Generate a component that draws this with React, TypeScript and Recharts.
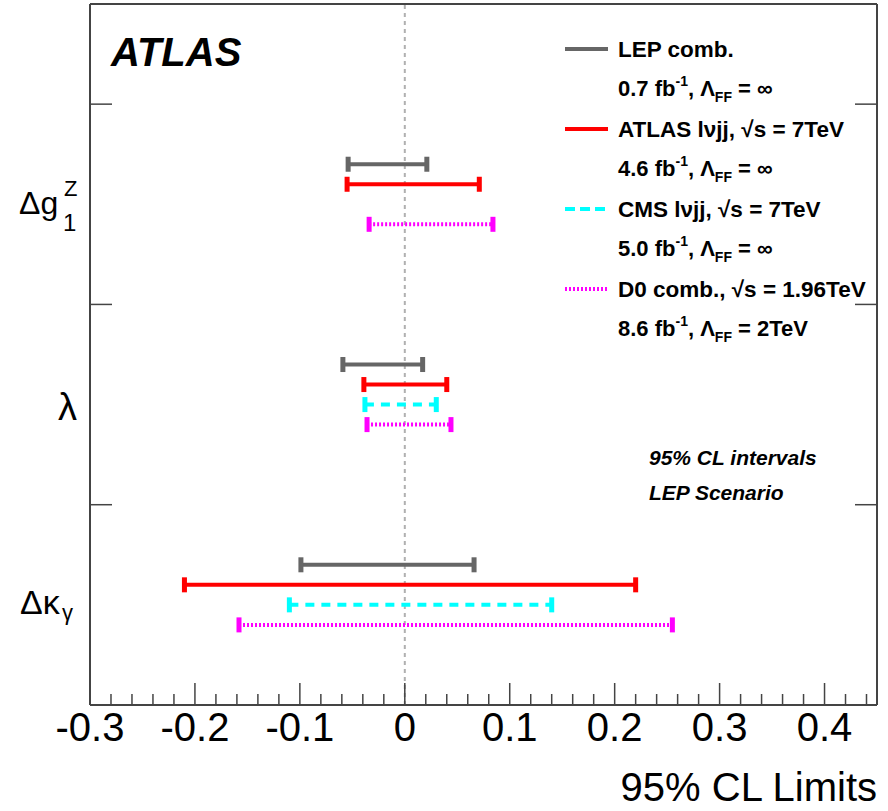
import React from 'react';
import { ComposedChart, Scatter, XAxis, YAxis, ReferenceLine } from 'recharts';

// Parameters (band centres on the vertical axis: bottom to top)
const paramNames = ['Δκγ', 'λ', 'Δg1Z'];
const paramCenters = [0.5, 1.5, 2.5];

// Experiments, vertical offset of each row within a band
const experimentNames = ['LEP comb.', 'ATLAS lνjj', 'CMS lνjj', 'D0 comb.'];
const rowOffsets = [0.2, 0.1, 0, -0.1];

// 95% CL intervals, order: Δκγ, λ, Δg1Z
const lepLow = [-0.099, -0.059, -0.054];
const lepHigh = [0.066, 0.017, 0.021];
const atlasLow = [-0.21, -0.039, -0.055];
const atlasHigh = [0.22, 0.040, 0.071];
const cmsLow = [-0.11, -0.038, null];
const cmsHigh = [0.14, 0.030, null];
const d0Low = [-0.158, -0.036, -0.034];
const d0High = [0.255, 0.044, 0.084];

const majorTicks = [-0.3, -0.2, -0.1, 0, 0.1, 0.2, 0.3, 0.4];
const majorTickLabels = ['-0.3', '-0.2', '-0.1', '0', '0.1', '0.2', '0.3', '0.4'];
const minorTicks = [
  -0.28, -0.26, -0.24, -0.22, -0.18, -0.16, -0.14, -0.12, -0.08, -0.06, -0.04, -0.02,
  0.02, 0.04, 0.06, 0.08, 0.12, 0.14, 0.16, 0.18, 0.22, 0.24, 0.26, 0.28,
  0.32, 0.34, 0.36, 0.38, 0.42, 0.44,
];
const yBandTicks = [1, 2, 3];

const xDomain = [-0.3, 0.45];
const yDomain = [0, 3.5];

const allXTicks = [...majorTicks, ...minorTicks].sort((a, b) => a - b);
const leftYTicks = [...paramCenters, ...yBandTicks].sort((a, b) => a - b);

const FONT = '"Liberation Sans", Arial, Helvetica, sans-serif';
const FRAME = '#444';
const MAJOR_LEN = 22;
const MINOR_LEN = 11;

type Style = { color: string; dash?: string };
const styles: Style[] = [
  { color: '#666666' },
  { color: '#ff0000' },
  { color: '#00ffff', dash: '9 7' },
  { color: '#ff00ff', dash: '2 2' },
];
const lows = [lepLow, atlasLow, cmsLow, d0Low];
const highs = [lepHigh, atlasHigh, cmsHigh, d0High];

type Seg = { key: string; color: string; dash?: string; data: { x: number; y: number }[] };
const segments: Seg[] = [];
experimentNames.forEach((exp, e) => {
  paramNames.forEach((p, i) => {
    const lo = lows[e][i];
    const hi = highs[e][i];
    if (lo === null || hi === null) return;
    const y = paramCenters[i] + rowOffsets[e];
    segments.push({
      key: `${exp}-${p}`,
      color: styles[e].color,
      dash: styles[e].dash,
      data: [
        { x: lo as number, y },
        { x: hi as number, y },
      ],
    });
  });
});

const makeCap = (color: string) => (props: any) => {
  const { cx, cy } = props;
  if (cx == null || cy == null) return <g />;
  return <rect x={cx - 2.5} y={cy - 7.5} width={5} height={15} fill={color} />;
};

const isMajor = (v: number) => majorTicks.some((m) => Math.abs(m - v) < 1e-9);

const XTickBottom = (props: any) => {
  const { x, y, payload } = props;
  const v = payload.value as number;
  const major = isMajor(v);
  const idx = majorTicks.findIndex((m) => Math.abs(m - v) < 1e-9);
  return (
    <g>
      <line x1={x} x2={x} y1={y} y2={y - (major ? MAJOR_LEN : MINOR_LEN)} stroke={FRAME} strokeWidth={1.5} />
      {major && (
        <text x={x} y={y} dy={36} textAnchor="middle" fontFamily={FONT} fontSize={40} fill="#000">
          {majorTickLabels[idx]}
        </text>
      )}
    </g>
  );
};

const XTickTop = (props: any) => {
  const { x, y, payload } = props;
  const major = isMajor(payload.value as number);
  return <line x1={x} x2={x} y1={y} y2={y + (major ? MAJOR_LEN : MINOR_LEN)} stroke={FRAME} strokeWidth={1.5} />;
};

const YTickLeft = (props: any) => {
  const { x, y, payload } = props;
  const v = payload.value as number;
  if (yBandTicks.includes(v)) {
    return <line x1={x} x2={x + MAJOR_LEN} y1={y} y2={y} stroke={FRAME} strokeWidth={1.5} />;
  }
  const idx = paramCenters.indexOf(v);
  if (idx === 2) {
    return (
      <g fontFamily={FONT} fill="#000">
        <text x={x - 71} y={y + 10} fontSize={32}>Δg</text>
        <text x={x - 26} y={y - 8} fontSize={22}>Z</text>
        <text x={x - 27} y={y + 27} fontSize={24}>1</text>
      </g>
    );
  }
  if (idx === 1) {
    return (
      <text x={x - 13} y={y + 15} textAnchor="end" fontFamily={FONT} fontSize={38} fill="#000">
        λ
      </text>
    );
  }
  return (
    <g fontFamily={FONT} fill="#000">
      <text x={x - 70} y={y + 9} fontSize={34}>Δκ</text>
      <text x={x - 28} y={y + 15} fontSize={22}>γ</text>
    </g>
  );
};

const YTickRight = (props: any) => {
  const { x, y } = props;
  return <line x1={x} x2={x - MAJOR_LEN} y1={y} y2={y} stroke={FRAME} strokeWidth={1.5} />;
};

const legendRows = [
  { label: 'LEP comb.', lumi: '0.7', lam: '∞' },
  { label: 'ATLAS lνjj, √s = 7TeV', lumi: '4.6', lam: '∞' },
  { label: 'CMS lνjj, √s = 7TeV', lumi: '5.0', lam: '∞' },
  { label: 'D0 comb., √s = 1.96TeV', lumi: '8.6', lam: '2TeV' },
];

const Overlay = () => (
  <svg
    width={888}
    height={811}
    style={{ position: 'absolute', left: 0, top: 0, pointerEvents: 'none' }}
  >
    <text x={111} y={66} fontFamily={FONT} fontSize={40} fontWeight="bold" fontStyle="italic" fill="#000">
      ATLAS
    </text>
    {legendRows.map((r, i) => {
      const cy = 49 + i * 80;
      const st = styles[i];
      return (
        <g key={r.label} fontFamily={FONT} fontWeight="bold" fill="#000">
          <line x1={565} x2={608} y1={cy} y2={cy} stroke={st.color} strokeWidth={4}
            strokeDasharray={st.dash === '9 7' ? '10 5' : st.dash} />
          <text x={618} y={cy + 8} fontSize={22.5}>{r.label}</text>
          <text x={618} y={cy + 47} fontSize={22}>
            {r.lumi} fb
            <tspan fontSize={14} dy={-10}>-1</tspan>
            <tspan dy={10}>,  Λ</tspan>
            <tspan fontSize={14} dy={6}>FF</tspan>
            <tspan dy={-6}> = {r.lam}</tspan>
          </text>
        </g>
      );
    })}
    <g fontFamily={FONT} fontWeight="bold" fontStyle="italic" fontSize={21} fill="#000">
      <text x={649} y={465}>95% CL intervals</text>
      <text x={649} y={500}>LEP Scenario</text>
    </g>
    <text x={877} y={801} textAnchor="end" fontFamily={FONT} fontSize={40} fill="#000">
      95% CL Limits
    </text>
  </svg>
);

export default function App() {
  return (
    <div style={{ position: 'absolute', left: 0, top: 0, width: 888, height: 811, background: '#fff' }}>
      <ComposedChart width={888} height={811} margin={{ top: 0, right: 0, bottom: 0, left: 0 }}>
        <XAxis
          xAxisId="main"
          type="number"
          dataKey="x"
          domain={xDomain}
          allowDataOverflow
          ticks={allXTicks}
          interval={0}
          orientation="bottom"
          height={106}
          tickSize={0}
          tickMargin={0}
          tickLine={false}
          axisLine={{ stroke: FRAME, strokeWidth: 2 }}
          tick={<XTickBottom />}
        />
        <XAxis
          xAxisId="top"
          type="number"
          domain={xDomain}
          allowDataOverflow
          ticks={allXTicks}
          interval={0}
          orientation="top"
          height={4}
          tickSize={0}
          tickMargin={0}
          tickLine={false}
          axisLine={{ stroke: FRAME, strokeWidth: 2 }}
          tick={<XTickTop />}
        />
        <YAxis
          yAxisId="main"
          type="number"
          dataKey="y"
          domain={yDomain}
          allowDataOverflow
          ticks={leftYTicks}
          interval={0}
          width={90}
          tickSize={0}
          tickMargin={0}
          tickLine={false}
          axisLine={{ stroke: FRAME, strokeWidth: 2 }}
          tick={<YTickLeft />}
        />
        <YAxis
          yAxisId="right"
          type="number"
          orientation="right"
          domain={yDomain}
          allowDataOverflow
          ticks={yBandTicks}
          interval={0}
          width={11}
          tickSize={0}
          tickMargin={0}
          tickLine={false}
          axisLine={{ stroke: FRAME, strokeWidth: 2 }}
          tick={<YTickRight />}
        />
        <ReferenceLine xAxisId="main" yAxisId="main" x={0} stroke="#b0b0b0" strokeWidth={2} strokeDasharray="4 4" />
        {segments.map((s) => (
          <Scatter
            key={s.key}
            xAxisId="main"
            yAxisId="main"
            data={s.data}
            fill={s.color}
            line={{ stroke: s.color, strokeWidth: 4, strokeDasharray: s.dash }}
            lineType="joint"
            shape={makeCap(s.color)}
            isAnimationActive={false}
          />
        ))}
      </ComposedChart>
      <Overlay />
    </div>
  );
}
